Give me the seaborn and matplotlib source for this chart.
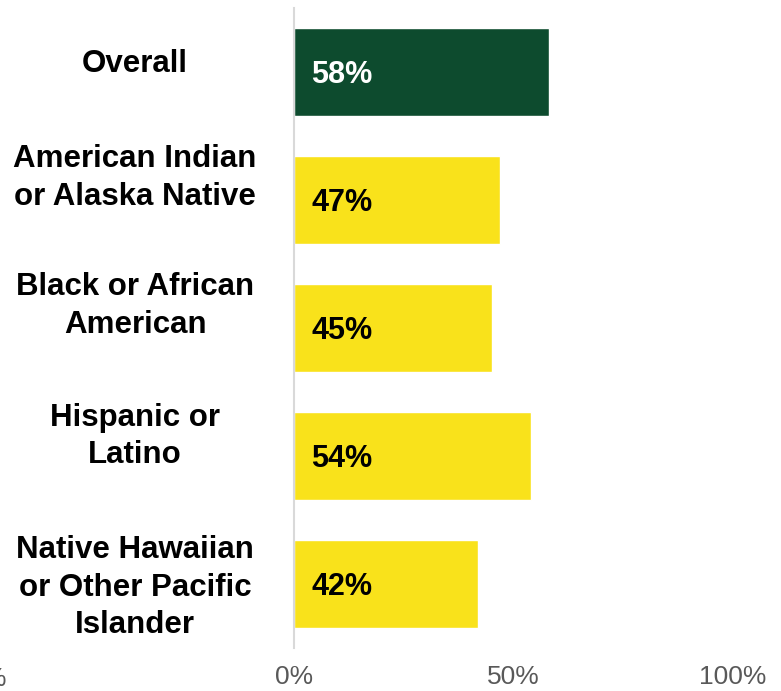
import pandas as pd
import matplotlib.pyplot as plt
import seaborn as sns

categories = ['Overall', 'American Indian\nor Alaska Native', 'Black or African\nAmerican',
              'Hispanic or\nLatino', 'Native Hawaiian\nor Other Pacific\nIslander']
values = [58, 47, 45, 54, 42]
value_labels = ['58%', '47%', '45%', '54%', '42%']
tick_vals = [0, 50, 100]
tick_labels = ['0%', '50%', '100%']

green = '#0D4B2E'
yellow = '#F9E21B'
colors = [green, yellow, yellow, yellow, yellow]
text_colors = ['white', 'black', 'black', 'black', 'black']

sns.set_style('white')
plt.rcParams['font.family'] = ['Liberation Sans', 'DejaVu Sans']

df = pd.DataFrame({'group': categories, 'pct': values})

fig = plt.figure(figsize=(7.81, 6.91), dpi=100)
ax = fig.add_axes([294 / 781, 43 / 691, 439 / 781, 640 / 691])
sns.barplot(data=df, x='pct', y='group', hue='group', palette=colors,
            legend=False, width=0.6875, orient='h', ax=ax, saturation=1)

ax.set_xlim(0, 100)
ax.set_ylim(4.5, -0.5)
ax.set_xlabel('')
ax.set_ylabel('')
ax.set_yticks([])
ax.set_xticks(tick_vals)
ax.set_xticklabels(tick_labels, fontsize=19, color='#595959')
ax.tick_params(axis='x', length=0, pad=12)

for s in ['top', 'right', 'bottom']:
    ax.spines[s].set_visible(False)
ax.spines['left'].set_color('#D9D9D9')
ax.spines['left'].set_linewidth(1.5)

px = 1 / 128  # one pixel in category units

# value labels inside bars
for i, (lab, c) in enumerate(zip(value_labels, text_colors)):
    ax.text(3.9, i + 11 * px, lab, color=c, fontsize=22, fontweight='bold',
            va='baseline', ha='left')

# category labels, line by line, nudged up like the original
offsets = [-12, -25.5, -25.5, -23, 0]
pitch = 37.5
for i, (cat, off) in enumerate(zip(categories, offsets)):
    lines = cat.split('\n')
    first = i + (off - (len(lines) - 1) * pitch / 2) * px
    for k, line in enumerate(lines):
        ax.text(-36.2, first + (k * pitch + 11.5) * px, line, fontsize=22.5,
                fontweight='bold', color='black', ha='center', va='baseline',
                clip_on=False)

# cropped tick label remnant at left edge
ax.text(-65.4, 4.5 + 19 * px, '-50%', ha='right', va='top', fontsize=19,
        color='#595959', clip_on=False)

plt.savefig('out.png', dpi=100)
